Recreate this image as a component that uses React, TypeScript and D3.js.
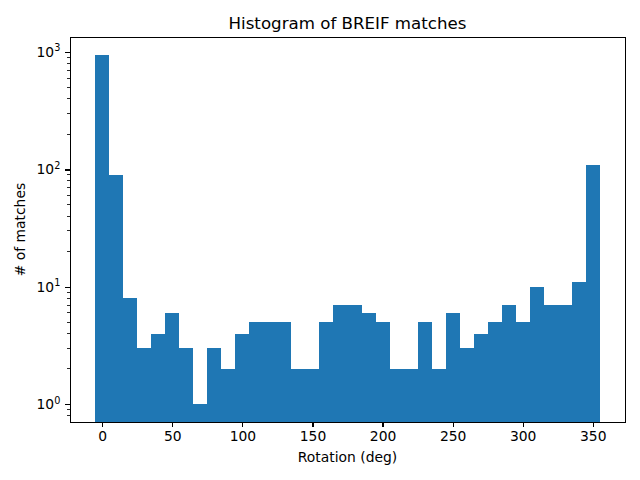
import { useEffect, useRef } from "react"
import * as d3 from "d3"

// left edge of each 10 degree bin and its count
const binEdges = [
  -5, 5, 15, 25, 35, 45, 55, 65, 75, 85, 95, 105, 115, 125, 135, 145, 155, 165, 175, 185, 195, 205, 215, 225, 235, 245,
  255, 265, 275, 285, 295, 305, 315, 325, 335, 345,
]
const counts = [
  948, 90, 8, 3, 4, 6, 3, 1, 3, 2, 4, 5, 5, 5, 2, 2, 5, 7, 7, 6, 5, 2, 2, 5, 2, 6, 3, 4, 5, 7, 5, 10, 7, 7, 11, 110,
]
const binWidth = 10
const xTicks = [0, 50, 100, 150, 200, 250, 300, 350]
const yMajorExponents = [0, 1, 2, 3]
const yMinorTicks = [
  0.8, 0.9, 2, 3, 4, 5, 6, 7, 8, 9, 20, 30, 40, 50, 60, 70, 80, 90, 200, 300, 400, 500, 600, 700, 800, 900,
]

const titleText = "Histogram of BREIF matches"
const xLabelText = "Rotation (deg)"
const yLabelText = "# of matches"

const App = () => {
  const svgRef = useRef<SVGSVGElement | null>(null)

  useEffect(() => {
    if (!svgRef.current) return

    const svg = d3.select(svgRef.current)
    svg.selectAll("*").remove()

    const width = 640
    const height = 480
    const margin = { top: 37.3, right: 15, bottom: 58.2, left: 70 }
    const font = "'DejaVu Sans', sans-serif"

    // Same 5% margins matplotlib puts around the data
    const xMin = binEdges[0]
    const xMax = binEdges[binEdges.length - 1] + binWidth
    const xPad = (xMax - xMin) * 0.05
    const logMax = Math.log10(d3.max(counts) || 1)
    const logPad = logMax * 0.05

    const x = d3
      .scaleLinear()
      .domain([xMin - xPad, xMax + xPad])
      .range([margin.left, width - margin.right])
    const y = d3
      .scaleLog()
      .domain([Math.pow(10, -logPad), Math.pow(10, logMax + logPad)])
      .range([height - margin.bottom, margin.top])

    // Bars
    svg
      .append("g")
      .selectAll("rect")
      .data(counts)
      .join("rect")
      .attr("x", (d, i) => x(binEdges[i]))
      .attr("width", (d, i) => x(binEdges[i] + binWidth) - x(binEdges[i]))
      .attr("y", (d) => y(d))
      .attr("height", (d) => height - margin.bottom - y(d))
      .attr("fill", "#1f77b4")
      .attr("shape-rendering", "crispEdges")

    // X axis
    const xAxis = svg
      .append("g")
      .attr("transform", `translate(0,${height - margin.bottom})`)
      .call(d3.axisBottom(x).tickValues(xTicks).tickSize(4.86).tickPadding(4.9).tickFormat(d3.format("d")))
    xAxis.select(".domain").remove()

    // Y axis, major ticks only get a label
    const yAxis = svg
      .append("g")
      .attr("transform", `translate(${margin.left},0)`)
      .call(
        d3
          .axisLeft(y)
          .tickValues(yMajorExponents.map((e) => Math.pow(10, e)))
          .tickSize(4.86)
          .tickFormat(() => ""),
      )
    yAxis.select(".domain").remove()

    svg
      .selectAll<SVGGElement, unknown>(".tick line")
      .attr("stroke", "#000")
      .attr("stroke-width", 1.11)
      .attr("shape-rendering", "crispEdges")
    xAxis.selectAll("text").attr("font-family", font).attr("font-size", 13.89).attr("fill", "#000")

    const yLabels = svg
      .append("g")
      .selectAll("text")
      .data(yMajorExponents)
      .join("text")
      .attr("x", margin.left - 9.7)
      .attr("y", (d) => y(Math.pow(10, d)) + 5)
      .attr("text-anchor", "end")
      .attr("font-family", font)
      .attr("font-size", 13.89)
      .attr("fill", "#000")
    yLabels.append("tspan").text("10")
    yLabels
      .append("tspan")
      .attr("dy", -5.8)
      .attr("font-size", 9.7)
      .text((d) => d)

    // Minor log ticks
    svg
      .append("g")
      .selectAll("line")
      .data(yMinorTicks)
      .join("line")
      .attr("x1", margin.left - 2.78)
      .attr("x2", margin.left)
      .attr("y1", (d) => y(d))
      .attr("y2", (d) => y(d))
      .attr("stroke", "#000")
      .attr("stroke-width", 0.83)
      .attr("shape-rendering", "crispEdges")

    // Frame, snapped to whole pixels
    svg
      .append("rect")
      .attr("x", margin.left + 0.5)
      .attr("y", 37.5)
      .attr("width", width - margin.left - margin.right)
      .attr("height", 385)
      .attr("fill", "none")
      .attr("stroke", "#000")
      .attr("stroke-width", 1.11)
      .attr("shape-rendering", "crispEdges")

    // Titles
    svg
      .append("text")
      .attr("x", (margin.left + width - margin.right) / 2)
      .attr("y", 29)
      .attr("text-anchor", "middle")
      .attr("font-family", font)
      .attr("font-size", 16.67)
      .attr("fill", "#000")
      .text(titleText)

    svg
      .append("text")
      .attr("x", (margin.left + width - margin.right) / 2)
      .attr("y", 462)
      .attr("text-anchor", "middle")
      .attr("font-family", font)
      .attr("font-size", 13.89)
      .attr("fill", "#000")
      .text(xLabelText)

    svg
      .append("text")
      .attr("transform", `translate(25,${(margin.top + height - margin.bottom) / 2}) rotate(-90)`)
      .attr("text-anchor", "middle")
      .attr("font-family", font)
      .attr("font-size", 13.89)
      .attr("fill", "#000")
      .text(yLabelText)
  }, [])

  return <svg ref={svgRef} width={640} height={480} style={{ position: "absolute", left: 0, top: 0, background: "#fff" }} />
}

export default App
